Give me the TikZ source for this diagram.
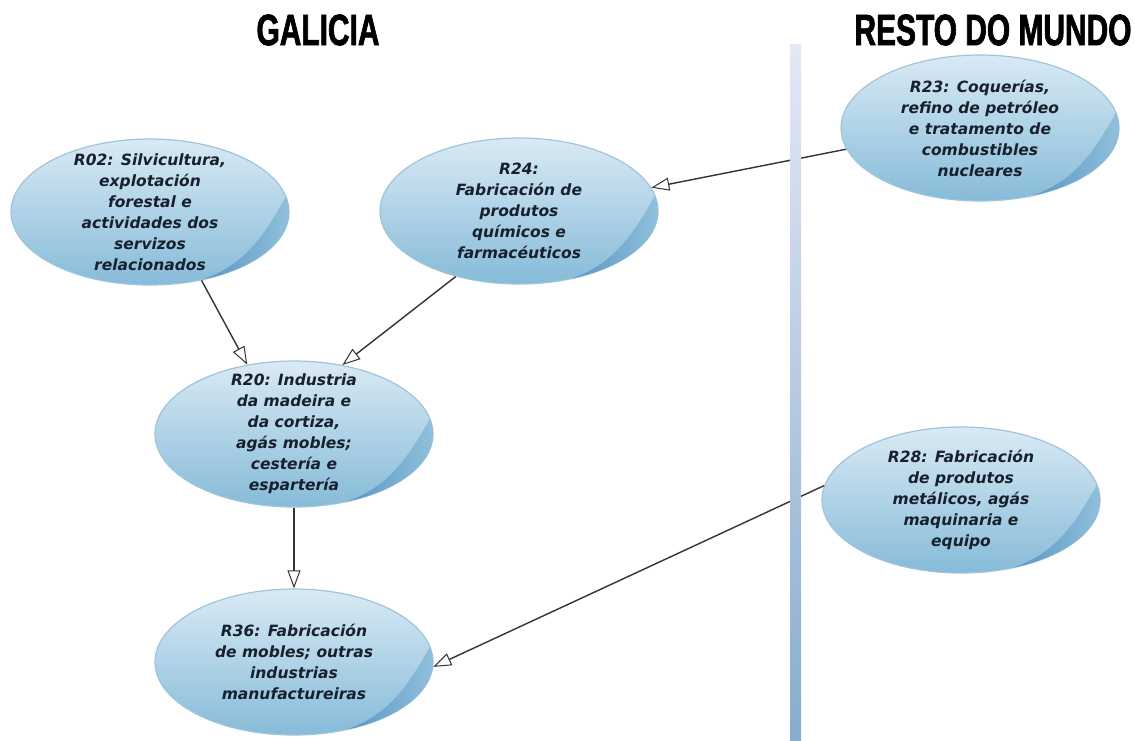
\documentclass[tikz,border=0pt]{standalone}
\usepackage{fontspec}
\usepackage{tikz}
\usetikzlibrary{arrows.meta,shapes.geometric}
\newfontfamily\boxfont[BoldItalicFont={DejaVu Sans Bold Oblique}]{DejaVu Sans}
\newfontfamily\headfont[FakeStretch=0.68,FakeBold=1.5]{Liberation Sans}
\definecolor{ovaltop}{RGB}{217,234,244}
\definecolor{ovalbot}{RGB}{134,187,217}
\definecolor{ovalrim}{RGB}{160,196,218}
\definecolor{shine}{RGB}{88,150,194}
\definecolor{ink}{RGB}{23,32,44}
\definecolor{bartop}{RGB}{228,232,246}
\definecolor{barbot}{RGB}{136,172,206}
% dark crescent on the lower right of an oval
\newcommand\crescent[1]{%
  \begin{scope}[shift={(#1.center)},yscale=-1]
    \shade[left color=shine,right color=ovalbot!85!white]
      (12:139 and 73) arc[start angle=12,end angle=-68,x radius=139,y radius=73]
      .. controls (100,-52) and (120,-12) .. (12:139 and 73);
  \end{scope}}

\begin{document}
\begin{tikzpicture}[x=1pt,y=-1pt,
  oval/.style={ellipse,minimum width=278pt,minimum height=146pt,
    inner xsep=0pt,inner ysep=-14pt,align=center,text=ink,
    font=\boxfont\bfseries\itshape\fontsize{15.5}{21}\selectfont,
    draw=ovalrim,line width=1.2pt,top color=ovaltop,bottom color=ovalbot},
  head/.style={inner sep=0pt,font=\headfont\bfseries\fontsize{44}{44}\selectfont},
  flow/.style={draw=black!80,line width=1.4pt,
    -{Triangle[length=18pt,width=13pt,fill=white,line width=1pt]}}]
\useasboundingbox (0,0) rectangle (1135,740);
% titles
\node[head] (galicia) at (318,30) {GALICIA};
\node[head] (resto) at (993,30) {RESTO DO MUNDO};
% sectors
\node[oval] (r02) at (150,212) {R02: Silvicultura,\\explotación\\forestal e\\actividades dos\\servizos\\relacionados};
\node[oval] (r24) at (519,211) {R24:\\Fabricación de\\produtos\\químicos e\\farmacéuticos};
\node[oval] (r23) at (980,128) {R23: Coquerías,\\refino de petróleo\\e tratamento de\\combustibles\\nucleares};
\node[oval] (r20) at (294,434) {R20: Industria\\da madeira e\\da cortiza,\\agás mobles;\\cestería e\\espartería};
\node[oval] (r28) at (961,500) {R28: Fabricación\\de produtos\\metálicos, agás\\maquinaria e\\equipo};
\node[oval] (r36) at (294,662) {R36: Fabricación\\de mobles; outras\\industrias\\manufactureiras};
\foreach \n in {r02,r24,r23,r20,r28,r36} \crescent{\n};
% flows
\draw[flow] (r02.-53) -- (r20.124);
\draw[flow] (r24.226) -- (r20.55);
\draw[flow] (r23.189) -- (r24.10);
\draw[flow] (r20.south) -- (r36.north);
\draw[flow] (r28.174) -- (r36.-2);
% border between the two regions
\shade[top color=bartop,bottom color=barbot] (790,44) rectangle (801,740);
\end{tikzpicture}
\end{document}
